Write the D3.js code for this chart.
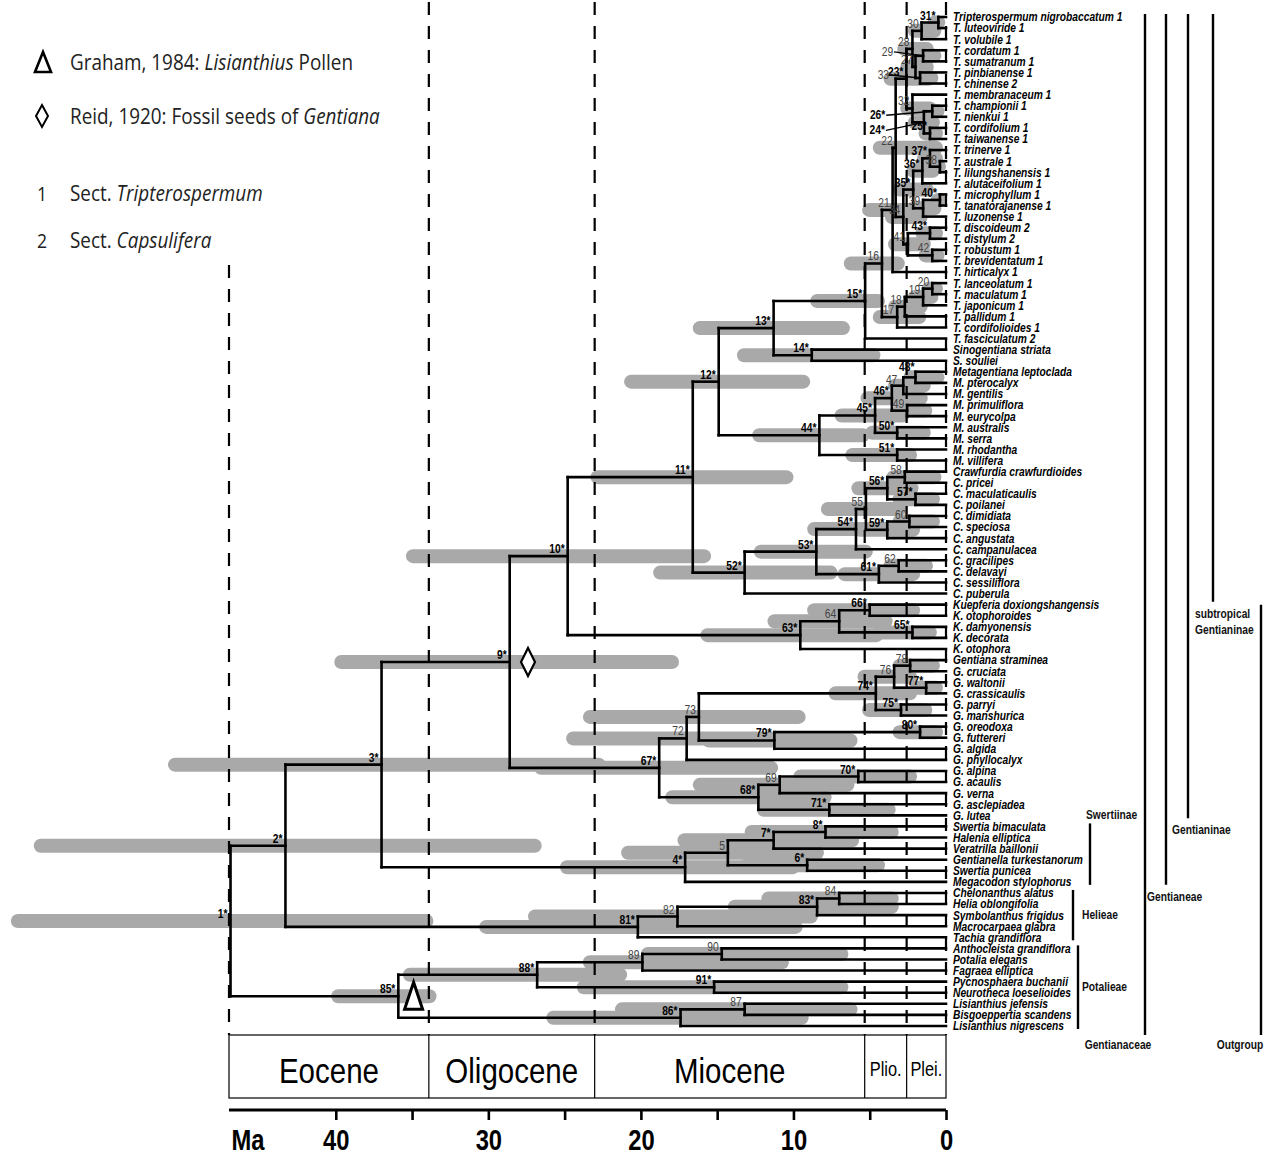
<!DOCTYPE html>
<html><head><meta charset="utf-8">
<script src="https://cdn.jsdelivr.net/npm/d3@7"></script>
<style>body{margin:0;background:#fff}svg{display:block}</style>
</head><body>
<svg id="chart" width="1272" height="1156"></svg>
<script>
// ---------------- DATA ----------------
const taxa = [
"Tripterospermum nigrobaccatum 1","T. luteoviride 1","T. volubile 1","T. cordatum 1","T. sumatranum 1",
"T. pinbianense 1","T. chinense 2","T. membranaceum 1","T. championii 1","T. nienkui 1",
"T. cordifolium 1","T. taiwanense 1","T. trinerve 1","T. australe 1","T. lilungshanensis 1",
"T. alutaceifolium 1","T. microphyllum 1","T. tanatorajanense 1","T. luzonense 1","T. discoideum 2",
"T. distylum 2","T. robustum 1","T. brevidentatum 1","T. hirticalyx 1","T. lanceolatum 1",
"T. maculatum 1","T. japonicum 1","T. pallidum 1","T. cordifolioides 1","T. fasciculatum 2",
"Sinogentiana striata","S. souliei","Metagentiana leptoclada","M. pterocalyx","M. gentilis",
"M. primuliflora","M. eurycolpa","M. australis","M. serra","M. rhodantha",
"M. villifera","Crawfurdia crawfurdioides","C. pricei","C. maculaticaulis","C. poilanei",
"C. dimidiata","C. speciosa","C. angustata","C. campanulacea","C. gracilipes",
"C. delavayi","C. sessiliflora","C. puberula","Kuepferia doxiongshangensis","K. otophoroides",
"K. damyonensis","K. decorata","K. otophora","Gentiana straminea","G. cruciata",
"G. waltonii","G. crassicaulis","G. parryi","G. manshurica","G. oreodoxa",
"G. futtereri","G. algida","G. phyllocalyx","G. alpina","G. acaulis",
"G. verna","G. asclepiadea","G. lutea","Swertia bimaculata","Halenia elliptica",
"Veratrilla baillonii","Gentianella turkestanorum","Swertia punicea","Megacodon stylophorus","Chelonanthus alatus",
"Helia oblongifolia","Symbolanthus frigidus","Macrocarpaea glabra","Tachia grandiflora","Anthocleista grandiflora",
"Potalia elegans","Fagraea elliptica","Pycnosphaera buchanii","Neurotheca loeselioides","Lisianthius jefensis",
"Bisgoeppertia scandens","Lisianthius nigrescens"
];

// internal nodes: [label, age (Ma), 95% HPD old, 95% HPD young, children (node numbers or "t"+taxon index)]
const clades = [
["1*",46.9,61.3,33.6,[2,85]],
["2*",43.3,59.8,26.5,[3,81]],
["3*",37.0,51.0,22.3,[9,4]],
["4*",17.1,25.3,9.6,[5,"t78"]],
["5",14.3,21.3,8.0,[7,6]],
["6*",9.1,13.5,4.0,["t76","t77"]],
["7*",11.3,17.6,5.7,[8,"t75"]],
["8*",7.9,13.2,3.1,["t73","t74"]],
["9*",28.6,40.1,17.5,[10,67]],
["10*",24.8,35.4,15.4,[11,63]],
["11*",16.6,23.3,10.0,[12,52]],
["12*",14.9,21.1,8.9,[13,44]],
["13*",11.3,16.6,6.3,[15,14]],
["14*",8.8,13.7,4.3,["t30","t31"]],
["15*",5.3,8.9,4.0,[16,"t29"]],
["16",4.2,6.7,2.7,[21,17]],
["17",3.2,4.8,1.3,[18,"t28"]],
["18",2.7,3.8,1.2,[19,"t27"]],
["19",1.5,2.5,0.5,[20,"t26"]],
["20",0.9,1.6,0.2,["t24","t25"]],
["21",3.5,5.5,1.8,[22,"t23"]],
["22",3.3,4.8,0.2,[23,34]],
["23*",2.6,4.1,0.7,[28,32]],
["24*",1.45,2.5,0.4,[26,25]],
["25*",1.05,1.8,0.2,["t10","t11"]],
["26*",0.9,1.5,0.1,["t8","t9"]],
["27",2.0,3.0,0.8,[29,33]],
["28",2.2,3.2,0.8,[30,27]],
["29",1.5,2.2,0.3,["t3","t4"]],
["30",1.6,2.5,0.3,[31,"t2"]],
["31*",0.5,1.2,0.05,["t0","t1"]],
["32",2.2,3.0,0.6,["t7",24]],
["33",1.7,2.5,0.5,["t5","t6"]],
["34",2.8,4.0,1.2,[35,41]],
["35*",2.15,3.5,0.8,[36,39]],
["36*",1.55,2.6,0.4,[37,"t15"]],
["37*",1.05,1.9,0.2,["t12",38]],
["38",0.4,0.9,0.0,["t13","t14"]],
["39",1.5,2.5,0.3,[40,"t18"]],
["40*",0.4,1.0,0.0,["t16","t17"]],
["41",2.5,3.8,1.0,[43,42]],
["42",0.9,1.8,0.1,["t21","t22"]],
["43*",1.05,2.0,0.2,["t19","t20"]],
["44*",8.3,12.7,5.0,[45,51]],
["45*",4.65,7.3,2.4,[46,50]],
["46*",3.55,5.6,1.2,[47,49]],
["47",2.8,3.8,1.0,[48,"t34"]],
["48*",2.0,2.8,0.1,["t32","t33"]],
["49",2.55,3.5,0.9,["t35","t36"]],
["50*",3.2,5.3,1.0,["t37","t38"]],
["51*",3.2,6.6,1.9,["t39","t40"]],
["52*",13.2,19.2,7.1,[53,"t52"]],
["53*",8.5,12.6,4.8,[54,61]],
["54*",5.9,9.1,3.5,[55,"t48"]],
["55",5.25,8.2,2.6,[56,59]],
["56*",3.85,6.2,1.8,[58,57]],
["57*",2.0,3.5,0.4,["t43","t44"]],
["58",2.7,3.9,0.3,["t41","t42"]],
["59*",3.85,6.1,1.7,[60,"t47"]],
["60",2.4,3.5,0.4,["t45","t46"]],
["61*",4.4,7.1,1.7,[62,"t51"]],
["62",3.1,4.1,0.85,["t49","t50"]],
["63*",9.55,16.1,4.1,[64,"t57"]],
["64",7.0,11.7,3.5,[66,65]],
["65*",2.2,4.8,0.6,["t55","t56"]],
["66*",5.0,9.1,1.7,["t53","t54"]],
["67*",18.8,27.0,11.0,[72,68]],
["68*",12.3,18.4,7.5,[69,71]],
["69",10.9,16.6,6.0,[70,"t70"]],
["70*",5.75,10.0,1.9,["t68","t69"]],
["71*",7.65,12.4,3.3,["t71","t72"]],
["72",17.0,24.9,11.0,[73,"t67"]],
["73",16.2,23.8,9.2,[74,79]],
["74*",4.6,7.7,1.9,[76,75]],
["75*",2.95,5.5,0.9,["t62","t63"]],
["76",3.4,5.8,1.9,[78,77]],
["77*",1.3,2.4,0.2,["t60","t61"]],
["78",2.35,3.5,0.4,["t58","t59"]],
["79*",11.25,16.0,5.8,[80,"t66"]],
["80*",1.7,3.5,0.2,["t64","t65"]],
["81*",20.2,30.6,9.4,[82,"t83"]],
["82",17.6,27.4,8.4,[83,"t82"]],
["83*",8.45,14.3,3.1,[84,"t81"]],
["84",7.0,12.1,3.1,["t79","t80"]],
["85*",35.9,40.3,33.4,[88,86]],
["86*",17.4,26.2,9.0,[87,"t91"]],
["87",13.2,21.7,5.8,["t89","t90"]],
["88*",26.8,35.6,20.9,[89,91]],
["89",19.9,23.8,10.3,[90,"t86"]],
["90",14.7,20.0,6.4,["t84","t85"]],
["91*",15.2,24.2,6.4,["t87","t88"]]
];

const epochNames = ["Eocene","Oligocene","Miocene","Plio.","Plei."];
const epochBounds = [47, 33.9, 23.03, 5.33, 2.58, 0];
const axisTicks = [40,35,30,25,20,15,10,5,0];
const axisLabelled = [40,30,20,10,0];

const cladeNames = ["Gentianaceae","Gentianeae","Gentianinae","subtropical Gentianinae","Outgroup","Swertiinae","Helieae","Potalieae"];
const cladeFirst = [0,0,0,0,53,73,79,84];
const cladeLast  = [91,78,72,53,91,78,83,91];

const fossilMarks = ["triangle","diamond"];
const fossilNodes = [85, 9];
const fossilAges  = [34.9, 27.4];

const legendMarks = ["triangle","diamond","1","2"];
const legendTexts = [
  [["Graham, 1984: ",false],["Lisianthius",true],[" Pollen",false]],
  [["Reid, 1920: Fossil seeds of ",false],["Gentiana",true]],
  [["Sect. ",false],["Tripterospermum",true]],
  [["Sect. ",false],["Capsulifera",true]]
];

// ---------------- LAYOUT ----------------
const svg = d3.select("#chart");
const FONT = "'Liberation Sans', Arial, sans-serif";
const NARROW = 0.82;
const x = d3.scaleLinear().domain([47, 0]).range([229, 946]);
const y = d3.scaleLinear().domain([0, taxa.length - 1]).range([17, 1026]);
const boxTop = 1035, boxBottom = 1098, axisY = 1110;

function ntext(g, px, py, str, o) {
  o = o || {};
  return g.append("text")
    .attr("transform", `translate(${px},${py}) scale(${o.sx || NARROW},1)`)
    .attr("font-family", o.family || FONT)
    .attr("font-size", o.size || 12)
    .attr("font-weight", o.weight || "normal")
    .attr("font-style", o.style || "normal")
    .attr("text-anchor", o.anchor || "start")
    .attr("fill", o.fill || "#000")
    .attr("dy", o.dy || null)
    .text(str);
}

// build node map
const nodeMap = new Map();
clades.forEach(c => nodeMap.set(parseInt(c[0]), {label: c[0], age: c[1], hpd: [c[2], c[3]], kids: c[4]}));
function pos(ref) {
  if (typeof ref === "string") { const i = +ref.slice(1); return {x: x(0), y: y(i), age: 0}; }
  const n = nodeMap.get(ref);
  if (n.y === undefined) {
    const ys = n.kids.map(k => pos(k).y);
    n.y = (ys[0] + ys[ys.length - 1]) / 2;
    n.x = x(n.age);
  }
  return n;
}
pos(1);

// HPD bars
const gBars = svg.append("g");
nodeMap.forEach(n => {
  gBars.append("rect")
    .attr("x", x(n.hpd[0])).attr("width", Math.max(2, x(n.hpd[1]) - x(n.hpd[0])))
    .attr("y", n.y - 7).attr("height", 14).attr("rx", 7)
    .attr("fill", "#a9a9a9");
});

// dashed epoch lines
const gDash = svg.append("g").attr("stroke", "#000").attr("stroke-width", 2.2).attr("stroke-dasharray", "13,11");
epochBounds.forEach(b => {
  gDash.append("line").attr("x1", x(b)).attr("x2", x(b))
    .attr("y1", b === epochBounds[0] ? 265 : 2).attr("y2", boxTop);
});

// tree
const gTree = svg.append("g").attr("stroke", "#000").attr("stroke-width", 2.6).attr("fill", "none").attr("stroke-linecap", "square");
nodeMap.forEach(n => {
  const kids = n.kids.map(pos);
  gTree.append("line").attr("x1", n.x).attr("x2", n.x).attr("y1", kids[0].y).attr("y2", kids[kids.length - 1].y);
  kids.forEach(k => gTree.append("line").attr("x1", n.x).attr("x2", k.x).attr("y1", k.y).attr("y2", k.y));
});

// node labels
const leader = {29: [-30, 0], 33: [-31, 1], 26: [-47, 8], 24: [-39, 12]};
const shift = {48: [2, -3], 47: [-3, 1]};
const gLab = svg.append("g");
nodeMap.forEach((n, id) => {
  const star = n.label.includes("*");
  let lx = n.x - 3, ly = n.y - 3;
  if (shift[id]) { lx += shift[id][0]; ly += shift[id][1]; }
  if (leader[id]) {
    lx = n.x + leader[id][0]; ly = n.y + leader[id][1];
    gLab.append("line").attr("x1", lx + 1).attr("y1", ly - 4).attr("x2", n.x).attr("y2", n.y)
      .attr("stroke", "#000").attr("stroke-width", 1.3);
  }
  ntext(gLab, lx, ly, n.label, {size: 12.5, weight: star ? "bold" : "normal", anchor: "end", fill: star ? "#000" : "#444"});
});

// fossil markers
fossilMarks.forEach((m, i) => {
  const n = nodeMap.get(fossilNodes[i]);
  const cx = x(fossilAges[i]), cy = n.y;
  const pts = m === "triangle"
    ? [[cx, cy - 14], [cx + 9, cy + 13], [cx - 9, cy + 13]]
    : [[cx, cy - 14], [cx + 7, cy], [cx, cy + 14], [cx - 7, cy]];
  svg.append("polygon").attr("points", pts.map(p => p.join(",")).join(" "))
    .attr("fill", "#fff").attr("stroke", "#000").attr("stroke-width", m === "triangle" ? 3 : 2.2)
    .attr("stroke-linejoin", "miter");
});

// taxon labels
const gTaxa = svg.append("g");
taxa.forEach((t, i) => ntext(gTaxa, x(0) + 7, y(i), t, {size: 12.5, weight: "bold", style: "italic", dy: "0.35em"}));

// epoch box
const gBox = svg.append("g");
gBox.append("rect").attr("x", x(47)).attr("y", boxTop).attr("width", x(0) - x(47)).attr("height", boxBottom - boxTop)
  .attr("fill", "none").attr("stroke", "#000").attr("stroke-width", 1.2);
epochBounds.slice(1, -1).forEach(b => gBox.append("line").attr("x1", x(b)).attr("x2", x(b)).attr("y1", boxTop).attr("y2", boxBottom)
  .attr("stroke", "#000").attr("stroke-width", 1.2));
epochNames.forEach((name, i) => {
  const cx = (x(epochBounds[i]) + x(epochBounds[i + 1])) / 2;
  const small = (epochBounds[i] - epochBounds[i + 1]) < 4;
  ntext(gBox, cx, small ? 1076 : 1083, name, {size: small ? 21 : 36, anchor: "middle", sx: small ? 0.78 : 0.82});
});

// axis
const axis = d3.axisBottom(x).tickValues(axisTicks).tickSize(10).tickSizeOuter(0).tickPadding(9)
  .tickFormat(d => axisLabelled.includes(d) ? d : "");
const gAxis = svg.append("g").attr("transform", `translate(0,${axisY})`).call(axis);
gAxis.select(".domain").attr("stroke-width", 3.2).attr("d", `M${x(47)},0H${x(0)}`);
gAxis.selectAll(".tick line").attr("stroke-width", 2.6);
gAxis.selectAll(".tick text").attr("font-family", FONT).attr("font-size", 29).attr("font-weight", "bold")
  .attr("fill", "#000").attr("transform", `scale(${NARROW},1)`);
ntext(svg, 248, 1150, "Ma", {size: 29, weight: "bold", anchor: "middle"});

// clade bars
const cladeLayout = [
  {lx: 1145, mode: "below", dx: -27, anchor: "middle", bottomPad: 9},
  {lx: 1166, mode: "under", dx: -19},
  {lx: 1188, mode: "under", dx: -16},
  {lx: 1213, mode: "under2", dx: -18, bottomPad: -3},
  {lx: 1261, mode: "below", dx: -21, anchor: "middle", bottomPad: 9, topPad: 0},
  {lx: 1090, mode: "above", dx: -4},
  {lx: 1073, mode: "right", dx: 9},
  {lx: 1078, mode: "right", dx: 4}
];
const gClade = svg.append("g");
cladeNames.forEach((name, i) => {
  const L = cladeLayout[i];
  const y1 = y(cladeFirst[i]) - (L.topPad !== undefined ? L.topPad : 3);
  const y2 = y(cladeLast[i]) + (L.bottomPad !== undefined ? L.bottomPad : 3);
  gClade.append("line").attr("x1", L.lx).attr("x2", L.lx).attr("y1", y1).attr("y2", y2)
    .attr("stroke", "#000").attr("stroke-width", 2.4);
  const o = {size: 12.5, weight: "bold", anchor: L.anchor || "start", fill: "#111"};
  if (L.mode === "below") ntext(gClade, L.lx + L.dx, y2 + 14, name, o);
  else if (L.mode === "under") ntext(gClade, L.lx + L.dx, y2 + 16, name, o);
  else if (L.mode === "above") ntext(gClade, L.lx + L.dx, y1 - 4, name, o);
  else if (L.mode === "right") ntext(gClade, L.lx + L.dx, (y1 + y2) / 2 + 4, name, o);
  else if (L.mode === "under2") {
    const parts = name.split(" ");
    ntext(gClade, L.lx + L.dx, y2 + 16, parts[0], o);
    ntext(gClade, L.lx + L.dx, y2 + 32, parts[1], o);
  }
});

// legend
const gLeg = svg.append("g");
const legY = [62, 116, 193, 240];
legendMarks.forEach((m, i) => {
  const cy = legY[i];
  if (m === "triangle") {
    gLeg.append("polygon").attr("points", `43,${cy - 10} 51,${cy + 10} 35,${cy + 10}`)
      .attr("fill", "none").attr("stroke", "#000").attr("stroke-width", 2.6);
  } else if (m === "diamond") {
    gLeg.append("polygon").attr("points", `42,${cy - 11} 48,${cy} 42,${cy + 11} 36,${cy}`)
      .attr("fill", "none").attr("stroke", "#000").attr("stroke-width", 2);
  } else {
    gLeg.append("text").attr("transform", `translate(42,${cy + 8}) scale(0.88,1)`).attr("text-anchor", "middle")
      .attr("font-family", "'Open Sans', sans-serif").attr("font-size", 20).attr("fill", "#222").text(m);
  }
  const t = gLeg.append("text").attr("transform", `translate(70,${cy + 8}) scale(0.9,1)`)
    .attr("font-family", "'Open Sans', sans-serif").attr("font-size", 21).attr("fill", "#222");
  legendTexts[i].forEach(([s, it]) => t.append("tspan").attr("font-style", it ? "italic" : "normal").text(s));
});
</script>
</body></html>
